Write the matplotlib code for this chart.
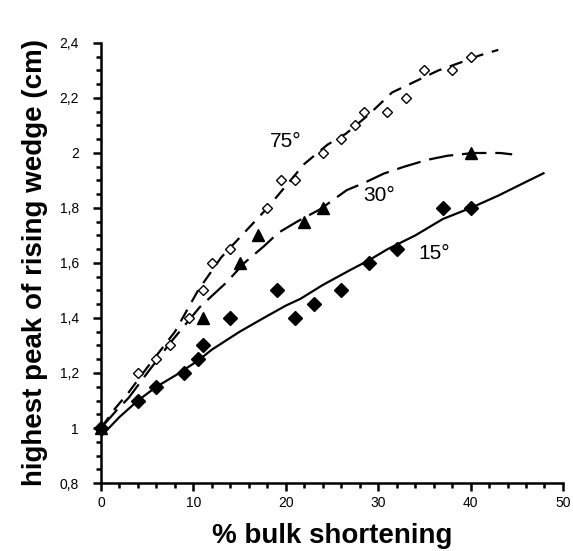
import matplotlib
matplotlib.use("Agg")
import matplotlib.pyplot as plt
from matplotlib.ticker import MultipleLocator, FuncFormatter

plt.rcParams['font.family'] = ['Liberation Sans', 'DejaVu Sans']

# measured points, 75 degree (open diamonds)
x75 = [0, 4, 6, 7.5, 9.5, 11, 12, 14, 18, 19.5, 21, 24, 26, 27.5, 28.5, 31, 33, 35, 38, 40]
y75 = [1.0, 1.2, 1.25, 1.3, 1.4, 1.5, 1.6, 1.65, 1.8, 1.9, 1.9, 2.0, 2.05, 2.1, 2.15, 2.15, 2.2, 2.3, 2.3, 2.35]

# 30 degree (filled triangles)
x30 = [0, 11, 15, 17, 22, 24, 40]
y30 = [1.0, 1.4, 1.6, 1.7, 1.75, 1.8, 2.0]

# 15 degree (filled diamonds)
x15 = [0, 4, 6, 9, 10.5, 11, 14, 19, 21, 23, 26, 29, 32, 37, 40]
y15 = [1.0, 1.1, 1.15, 1.2, 1.25, 1.3, 1.4, 1.5, 1.4, 1.45, 1.5, 1.6, 1.65, 1.8, 1.8]

# trend curves
cx75 = [0, 1.5, 3, 5, 8, 10.5, 13, 15.5, 18, 20, 22, 24.5, 26.5, 29, 31.5, 34, 36.5, 39, 41, 43]
cy75 = [1.0, 1.07, 1.13, 1.22, 1.35, 1.5, 1.62, 1.71, 1.8, 1.88, 1.96, 2.03, 2.07, 2.14, 2.22, 2.26, 2.3, 2.33, 2.355, 2.375]

cx30 = [0, 1.7, 3, 5, 7.5, 10.7, 13.6, 15.5, 17.6, 19.2, 21.2, 23.7, 26.6, 28.4, 30.6, 32.8, 35.3, 37.5, 40.3, 43.2, 44.5]
cy30 = [1.0, 1.065, 1.11, 1.2, 1.31, 1.44, 1.53, 1.6, 1.66, 1.71, 1.75, 1.795, 1.865, 1.89, 1.925, 1.95, 1.975, 1.99, 2.0, 2.0, 1.995]

cx15 = [0, 2, 4, 6, 8, 10.5, 12, 15, 17.6, 20, 21.6, 24, 27, 29, 31, 34, 37, 40, 43, 46, 48]
cy15 = [0.97, 1.04, 1.1, 1.15, 1.19, 1.245, 1.285, 1.35, 1.4, 1.445, 1.47, 1.52, 1.575, 1.61, 1.65, 1.7, 1.76, 1.8, 1.845, 1.895, 1.928]

xticks = [0, 10, 20, 30, 40, 50]
yticks = [0.8, 1.0, 1.2, 1.4, 1.6, 1.8, 2.0, 2.2, 2.4]

fig = plt.figure(figsize=(5.73, 5.51), dpi=100)
ax = fig.add_axes([0.1763, 0.1234, 0.8062, 0.7986])

ax.plot(cx15, cy15, color='black', lw=1.6, solid_capstyle='butt')
ax.plot(cx30, cy30, color='black', lw=1.6, dashes=(11, 4))
ax.plot(cx75, cy75, color='black', lw=1.6, dashes=(6, 4))

ax.plot(x75, y75, 'D', ms=5.5, mfc='white', mec='black', mew=1.0, ls='none')
ax.plot(x30, y30, '^', ms=8, color='black', ls='none')
ax.plot(x15, y15, 'D', ms=7, color='black', ls='none')

ax.text(18.3, 2.04, "75°", fontsize=15, va='center', ha='left')
ax.text(28.4, 1.845, "30°", fontsize=15, va='center', ha='left')
ax.text(34.3, 1.635, "15°", fontsize=15, va='center', ha='left')

ax.set_xlim(0, 50)
ax.set_ylim(0.8, 2.4)
ax.set_xticks(xticks)
ax.set_yticks(yticks)
ax.xaxis.set_minor_locator(MultipleLocator(2))
ax.yaxis.set_minor_locator(MultipleLocator(0.05))
ax.yaxis.set_major_formatter(FuncFormatter(lambda v, p: ('%g' % round(v, 2)).replace('.', ',')))

for s in ['top', 'right']:
    ax.spines[s].set_visible(False)
for s in ['left', 'bottom']:
    ax.spines[s].set_linewidth(1.8)
ax.tick_params(which='major', direction='out', length=6, width=1.8, labelsize=10)
ax.tick_params(which='minor', direction='out', length=3.5, width=1.8)
ax.tick_params(axis='x', which='major', pad=3)
ax.tick_params(axis='y', which='major', pad=10)

ax.set_xlabel("% bulk shortening", fontsize=20, fontweight='bold', labelpad=10)
ax.set_ylabel("highest peak of rising wedge (cm)", fontsize=20, fontweight='bold', labelpad=8)

for line in ax.lines:
    line.set_clip_on(False)

plt.savefig("out.png", dpi=100)
